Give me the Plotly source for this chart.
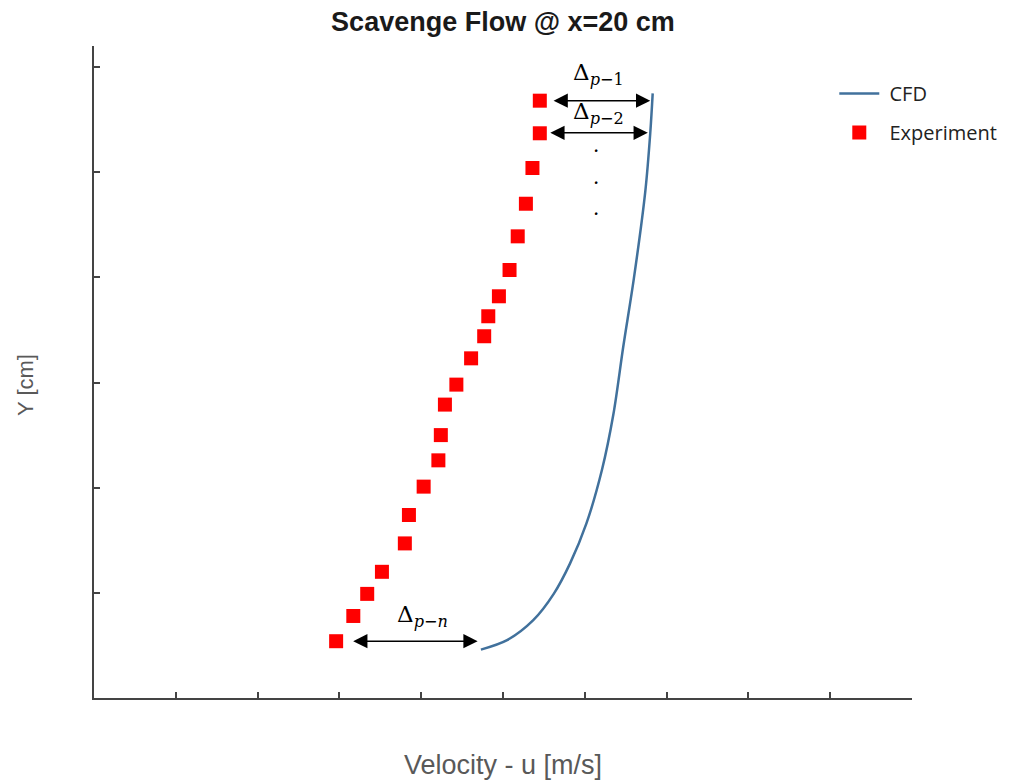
import plotly.graph_objects as go

# Measured velocity profile (experiment)
exp_u = [5.45, 5.45, 5.36, 5.28, 5.18, 5.08, 4.95, 4.82, 4.77, 4.61, 4.43,
         4.29, 4.24, 4.21, 4.03, 3.85, 3.80, 3.52, 3.34, 3.17, 2.96]
exp_y = [5.68, 5.37, 5.04, 4.70, 4.39, 4.07, 3.82, 3.63, 3.44, 3.23, 2.98,
         2.79, 2.50, 2.26, 2.01, 1.74, 1.47, 1.20, 0.99, 0.78, 0.54]

# Simulated velocity profile (CFD)
cfd_u = [4.73, 5.05, 5.37, 5.62, 5.82, 6.02, 6.21, 6.35, 6.47, 6.60, 6.74, 6.80, 6.83]
cfd_y = [0.46, 0.55, 0.74, 0.99, 1.28, 1.66, 2.17, 2.70, 3.34, 3.99, 4.82, 5.37, 5.75]

# Gap arrows between experiment and CFD: (label, u_start, u_end, y, label_u, label_y)
gap_arrows = [
    ("Δ<sub><i>p</i>−1</sub>", 5.60, 6.80, 5.68, 6.17, 5.93),
    ("Δ<sub><i>p</i>−2</sub>", 5.56, 6.77, 5.375, 6.17, 5.56),
    ("Δ<sub><i>p</i>−<i>n</i></sub>", 3.15, 4.69, 0.54, 4.02, 0.78),
]
dots_u = 6.14
dots_y = [5.20, 4.90, 4.60]

axis_color = "#444444"
label_color = "#595959"

fig = go.Figure()
fig.add_trace(go.Scatter(
    x=cfd_u, y=cfd_y, mode="lines", name="\u00a0CFD",
    line=dict(color="#41719C", width=2.5, shape="spline", smoothing=0.9),
    legendgroup="a",
))
fig.add_trace(go.Scatter(
    x=exp_u, y=exp_y, mode="markers", name="\u00a0Experiment",
    marker=dict(symbol="square", size=14, color="#FF0000", line=dict(width=0)),
    legendgroup="b",
))

annotations = []
for label, u0, u1, yy, lu, ly in gap_arrows:
    annotations.append(dict(
        x=u1, y=yy, ax=u0, ay=yy, xref="x", yref="y", axref="x", ayref="y",
        text="", showarrow=True, arrowside="end+start",
        arrowhead=2, startarrowhead=2, arrowsize=1.9, startarrowsize=1.9,
        arrowwidth=1.5, arrowcolor="#000000", standoff=0, startstandoff=0,
    ))
    annotations.append(dict(
        x=lu, y=ly, xref="x", yref="y", text=label, showarrow=False,
        font=dict(family="DejaVu Serif", size=23, color="#000000"),
    ))
for dy in dots_y:
    annotations.append(dict(
        x=dots_u, y=dy, xref="x", yref="y", text="·", showarrow=False,
        font=dict(family="DejaVu Serif", size=20, color="#000000"),
    ))

# Axis titles
annotations.append(dict(
    x=0.5, y=-0.1028, xref="paper", yref="paper", xanchor="center", yanchor="middle",
    text="Velocity - u [m/s]", showarrow=False,
    font=dict(family="Liberation Sans", size=27, color=label_color),
))
annotations.append(dict(
    x=-0.0844, y=0.48, xref="paper", yref="paper", xanchor="center", yanchor="middle",
    text="Y [cm]", showarrow=False, textangle=-90,
    font=dict(family="Liberation Sans", size=22, color=label_color),
))

fig.update_layout(
    width=1009, height=780,
    margin=dict(l=94, r=97, t=46, b=82, autoexpand=False),
    paper_bgcolor="white", plot_bgcolor="white",
    title=dict(
        text="<b>Scavenge Flow @ x=20 cm</b>",
        x=0.4985, xanchor="center", y=0.972, yanchor="middle",
        font=dict(family="Liberation Sans", size=27, color="#1a1a1a"),
    ),
    xaxis=dict(
        range=[0, 10], dtick=1, tick0=0, showgrid=False, zeroline=False,
        showline=True, linecolor=axis_color, linewidth=2,
        ticks="inside", ticklen=6, tickwidth=2, tickcolor=axis_color,
        showticklabels=False,
    ),
    yaxis=dict(
        range=[0, 6.2], dtick=1, tick0=0, showgrid=False, zeroline=False,
        showline=True, linecolor=axis_color, linewidth=2,
        ticks="inside", ticklen=6, tickwidth=2, tickcolor=axis_color,
        showticklabels=False,
    ),
    legend=dict(
        x=0.905, y=0.957, xanchor="left", yanchor="top",
        bgcolor="rgba(0,0,0,0)", traceorder="grouped", tracegroupgap=10,
        font=dict(family="Open Sans", size=20, color="#222222"),
        itemwidth=40,
    ),
    annotations=annotations,
)

fig.write_html("out.html")
